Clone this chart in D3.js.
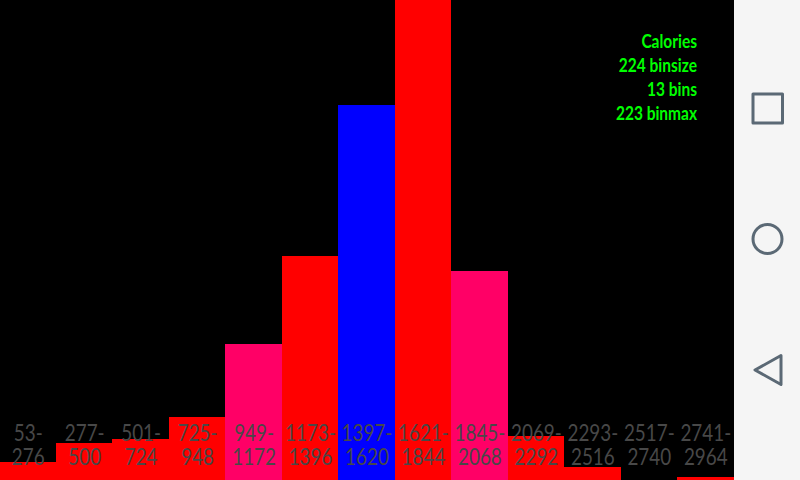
<!DOCTYPE html>
<html><head><meta charset="utf-8">
<script src="https://cdn.jsdelivr.net/npm/d3@7/dist/d3.min.js"></script>
<style>html,body{margin:0;padding:0;background:#000;overflow:hidden}svg{display:block}</style>
</head><body><svg id="c" width="800" height="480"></svg>
<script>
const binStarts = [53,277,501,725,949,1173,1397,1621,1845,2069,2293,2517,2741];
const binEnds = [276,500,724,948,1172,1396,1620,1844,2068,2292,2516,2740,2964];
const counts = [8,17,19,29,63,104,174,223,97,20,6,0,1];
const barColors = ["#ff0000","#ff0000","#ff0000","#ff0000","#ff0066","#ff0000","#0000ff","#ff0000","#ff0066","#ff0000","#ff0000","#ff0000","#ff0000"];
const infoLines = ["Calories","224 binsize","13 bins","223 binmax"];
const svg = d3.select("#c");
const W = 734, H = 480;
svg.append("rect").attr("width",W).attr("height",H).attr("fill","#000");
svg.append("rect").attr("x",W).attr("width",800-W).attr("height",H).attr("fill","#f5f5f5");
const x = d3.scaleBand().domain(d3.range(counts.length)).range([0,W]).paddingInner(0).paddingOuter(0);
const y = d3.scaleLinear().domain([0,223]).range([H,0]);
const left = i => Math.floor(x(i));
const right = i => Math.floor(x(i)+x.bandwidth());
svg.append("g").selectAll("rect").data(counts).join("rect")
  .attr("x",(d,i)=>left(i)).attr("width",(d,i)=>right(i)-left(i))
  .attr("y",d=>Math.floor(y(d))).attr("height",d=>H-Math.floor(y(d)))
  .attr("fill",(d,i)=>barColors[i]).attr("shape-rendering","crispEdges");
const condense = (sel,f) => sel.each(function(){
  const n = this.getComputedTextLength();
  d3.select(this).attr("textLength",n*f).attr("lengthAdjust","spacingAndGlyphs");
});
const font = "Lato,'Noto Sans',sans-serif";
const lab = svg.append("g").attr("font-family",font).attr("font-size",23).attr("fill","#484848").attr("text-anchor","middle");
lab.selectAll("text.a").data(binStarts).join("text").attr("class","a")
  .attr("x",(d,i)=>x(i)+x.bandwidth()/2).attr("y",441).text(d=>d+"-").call(condense,0.82);
lab.selectAll("text.b").data(binEnds).join("text").attr("class","b")
  .attr("x",(d,i)=>x(i)+x.bandwidth()/2).attr("y",465).text(d=>d).call(condense,0.82);
svg.append("g").attr("font-family",font).attr("font-size",18).attr("font-weight","bold").attr("fill","#00ff00").attr("text-anchor","end")
  .selectAll("text").data(infoLines).join("text").attr("x",697).attr("y",(d,i)=>48+i*24).text(d=>d).call(condense,0.86);
const nav = svg.append("g").attr("fill","none").attr("stroke","#5b6975").attr("stroke-width",3).attr("stroke-linejoin","round");
nav.append("rect").attr("x",753).attr("y",94).attr("width",29.5).attr("height",29);
nav.append("circle").attr("cx",767.5).attr("cy",239).attr("r",14.5);
nav.append("path").attr("d",d3.line()([[781,355.5],[755,370],[781,384.5]])+"Z");
</script></body></html>
